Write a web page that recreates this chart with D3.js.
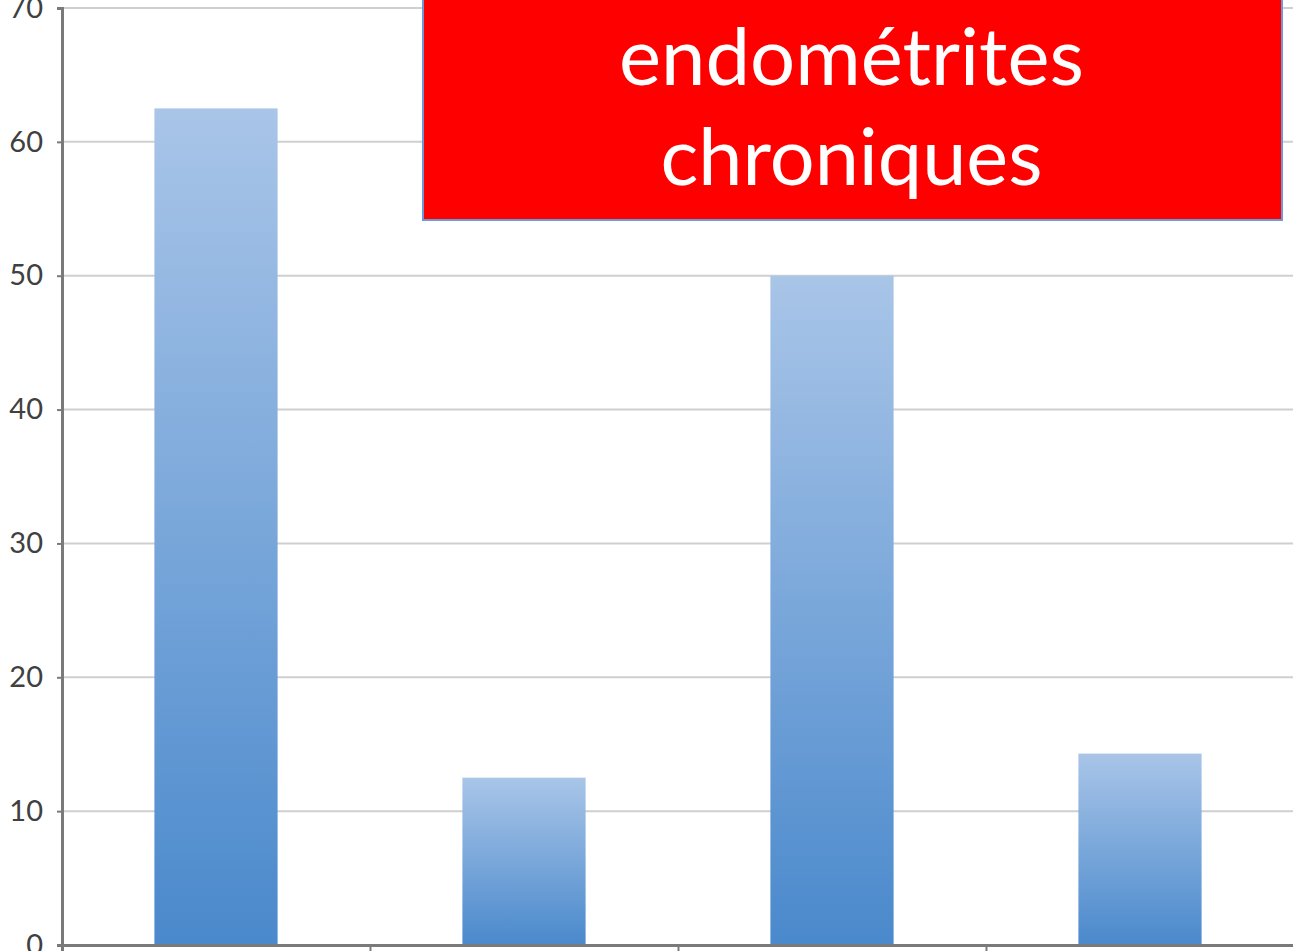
<!DOCTYPE html>
<html><head><meta charset="utf-8">
<script src="https://cdn.jsdelivr.net/npm/d3@7"></script>
<style>
html,body{margin:0;padding:0;background:#fff;overflow:hidden}
svg{display:block}
</style></head>
<body>
<svg id="c" width="1293" height="951"></svg>
<script>
const categories = ["1", "2", "3", "4"];
const values = [62.5, 12.5, 50, 14.3];
const yTicks = [0, 10, 20, 30, 40, 50, 60, 70];
const titleLines = ["endométrites", "chroniques"];

const svg = d3.select("#c");
const W = 1293, H = 951;
const x0 = 62, y0 = 945, yTop = 8;

const y = d3.scaleLinear().domain([0, 70]).range([y0, yTop]);
const x = d3.scaleBand().domain(categories).range([x0, x0 + 4 * 308])
  .paddingInner(0.6).paddingOuter(0.3);

const defs = svg.append("defs");
const grad = defs.append("linearGradient").attr("id", "barGrad")
  .attr("x1", 0).attr("y1", 0).attr("x2", 0).attr("y2", 1);
grad.append("stop").attr("offset", "0%").attr("stop-color", "#a9c5e8");
grad.append("stop").attr("offset", "100%").attr("stop-color", "#4a89cc");

// gridlines
svg.append("g").selectAll("line").data(yTicks.filter(d => d > 0)).join("line")
  .attr("x1", x0).attr("x2", W)
  .attr("y1", d => y(d)).attr("y2", d => y(d))
  .attr("stroke", "#cfcfcf").attr("stroke-width", 2);

// bars
svg.append("g").selectAll("rect").data(values).join("rect")
  .attr("x", (d, i) => x(categories[i]))
  .attr("width", x.bandwidth())
  .attr("y", d => y(d))
  .attr("height", d => y0 - y(d))
  .attr("fill", "url(#barGrad)");

// y axis
const yAxis = d3.axisLeft(y).tickValues(yTicks).tickSize(5).tickPadding(14);
const gy = svg.append("g").attr("transform", `translate(${x0},0)`).call(yAxis);
gy.select(".domain").attr("stroke", "#7a7a7a").attr("stroke-width", 3);
gy.selectAll(".tick line").attr("stroke", "#7a7a7a").attr("stroke-width", 2);
gy.selectAll(".tick text").attr("font-family", "Lato, 'Open Sans', sans-serif")
  .attr("font-size", 29).attr("fill", "#404040");

// x axis
const xAxis = d3.axisBottom(d3.scaleLinear().domain([0, 4]).range([x0, x0 + 4 * 308]))
  .tickValues([1, 2, 3]).tickSize(8).tickFormat(() => "");
const gx = svg.append("g").attr("transform", `translate(0,${y0})`).call(xAxis);
gx.select(".domain").attr("stroke", "#7a7a7a").attr("stroke-width", 3);
gx.selectAll(".tick line").attr("stroke", "#7a7a7a").attr("stroke-width", 2);

// red title box
const bx = 423, bw = 859, by = -10, bh = 230;
svg.append("rect").attr("x", bx).attr("y", by).attr("width", bw).attr("height", bh)
  .attr("fill", "#ff0000").attr("stroke", "#6a9bd8").attr("stroke-width", 2);

const tg = svg.append("g").attr("font-family", "Lato, 'Open Sans', sans-serif")
  .attr("fill", "#ffffff").attr("text-anchor", "middle");
const baselines = [85, 185];
const targetW = [465, 382];
titleLines.forEach((t, i) => {
  const el = tg.append("text").attr("x", bx + bw / 2 - 1).attr("y", baselines[i])
    .attr("font-size", 74).text(t);
  const w = el.node().getComputedTextLength();
  el.attr("font-size", 74 * targetW[i] / w);
});
</script>
</body></html>
